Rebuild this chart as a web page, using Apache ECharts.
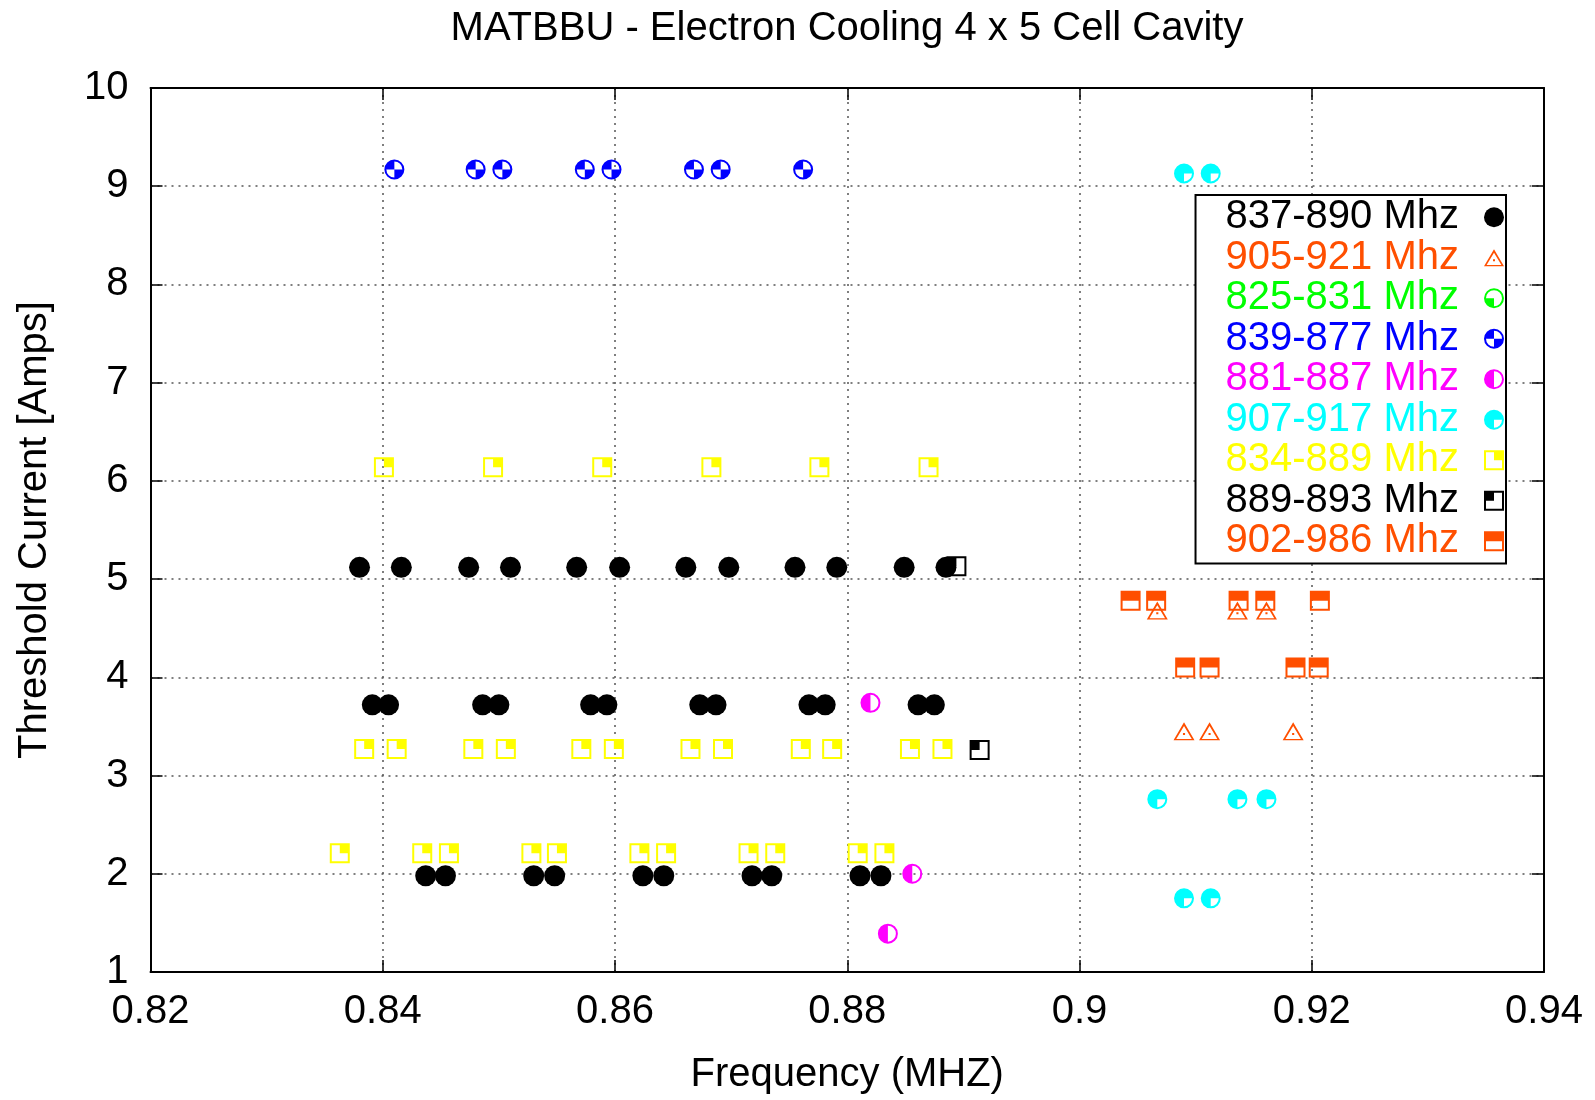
<!DOCTYPE html>
<html>
<head>
<meta charset="utf-8">
<title>MATBBU - Electron Cooling 4 x 5 Cell Cavity</title>
<script src="https://cdn.jsdelivr.net/npm/echarts@6/dist/echarts.min.js"></script>
<style>
  html, body { margin: 0; padding: 0; background: #fff; }
  #chart { width: 1595px; height: 1100px; }
</style>
</head>
<body>
<div id="chart"></div>
<script>
// data: [frequency, threshold current]
var black837_890 = [
  [0.8380, 5.12], [0.8416, 5.12], [0.8474, 5.12], [0.8510, 5.12], [0.8567, 5.12], [0.8604, 5.12],
  [0.8661, 5.12], [0.8698, 5.12], [0.8755, 5.12], [0.8791, 5.12], [0.8849, 5.12], [0.8885, 5.12],
  [0.8391, 3.72], [0.8405, 3.72], [0.8486, 3.72], [0.8500, 3.72], [0.8579, 3.72], [0.8593, 3.72],
  [0.8673, 3.72], [0.8687, 3.72], [0.8767, 3.72], [0.8781, 3.72], [0.8861, 3.72], [0.8875, 3.72],
  [0.8437, 1.98], [0.8454, 1.98], [0.8530, 1.98], [0.8548, 1.98], [0.8624, 1.98],
  [0.8642, 1.98], [0.8718, 1.98], [0.8735, 1.98], [0.8811, 1.98], [0.8829, 1.98]
];
var orange905_921 = [
  [0.9067, 4.68], [0.9136, 4.68], [0.9161, 4.68],
  [0.9090, 3.45], [0.9112, 3.45], [0.9184, 3.45]
];
var green825_831 = [];
var blue839_877 = [
  [0.8410, 9.17], [0.8480, 9.17], [0.8503, 9.17], [0.8574, 9.17],
  [0.8597, 9.17], [0.8668, 9.17], [0.8691, 9.17], [0.8762, 9.17]
];
var magenta881_887 = [[0.8820, 3.74], [0.8856, 2.00], [0.8835, 1.39]];
var cyan907_917 = [
  [0.9090, 9.13], [0.9113, 9.13],
  [0.9067, 2.76], [0.9136, 2.76], [0.9161, 2.76],
  [0.9090, 1.75], [0.9113, 1.75]
];
var yellow834_889 = [
  [0.8401, 6.14], [0.8495, 6.14], [0.8589, 6.14], [0.8683, 6.14], [0.8776, 6.14], [0.8870, 6.14],
  [0.8384, 3.27], [0.8412, 3.27], [0.8478, 3.27], [0.8506, 3.27], [0.8571, 3.27], [0.8599, 3.27],
  [0.8665, 3.27], [0.8693, 3.27], [0.8760, 3.27], [0.8787, 3.27], [0.8854, 3.27], [0.8882, 3.27],
  [0.8363, 2.21], [0.8434, 2.21], [0.8457, 2.21], [0.8528, 2.21], [0.8550, 2.21], [0.8621, 2.21],
  [0.8644, 2.21], [0.8715, 2.21], [0.8738, 2.21], [0.8809, 2.21], [0.8832, 2.21]
];
var black889_893 = [[0.8894, 5.13], [0.8914, 3.26]];
var orange902_986 = [
  [0.9044, 4.78], [0.9066, 4.78], [0.9137, 4.78], [0.9160, 4.78], [0.9207, 4.78],
  [0.9091, 4.10], [0.9112, 4.10], [0.9186, 4.10], [0.9206, 4.10]
];

var seriesNames = ['837-890 Mhz', '905-921 Mhz', '825-831 Mhz', '839-877 Mhz', '881-887 Mhz',
  '907-917 Mhz', '834-889 Mhz', '889-893 Mhz', '902-986 Mhz'];
var seriesData = [black837_890, orange905_921, green825_831, blue839_877, magenta881_887,
  cyan907_917, yellow834_889, black889_893, orange902_986];
var xTicks = [0.82, 0.84, 0.86, 0.88, 0.9, 0.92, 0.94];

var ORANGE = '#ff4f00';
var colors = ['#000000', ORANGE, '#00ff00', '#0000ff', '#ff00ff', '#00ffff', '#ffff00', '#000000', ORANGE];

// gnuplot-ish point shapes, built as 20x20 paths (ring / frame plus filled parts)
var ring = 'M0,10 A10,10 0 1,1 20,10 A10,10 0 1,1 0,10 Z M2,10 A8,8 0 1,0 18,10 A8,8 0 1,0 2,10 Z ';
var frame = 'M0,0 L20,0 L20,20 L0,20 Z M2,2 L2,18 L18,18 L18,2 Z ';
var symbols = [
  'circle',
  'path://M10,0 L20,17 L0,17 Z M10,3.4 L2.6,15.8 L17.4,15.8 Z M9,10 L11,10 L11,12 L9,12 Z',
  'path://' + ring + 'M10,10 L2,10 A8,8 0 0,0 10,18 Z',
  'path://' + ring + 'M10,10 L10,2 A8,8 0 0,0 2,10 Z M10,10 L10,18 A8,8 0 0,0 18,10 Z',
  'path://' + ring + 'M10,2 A8,8 0 0,0 10,18 Z',
  'path://' + ring + 'M10,10 L18,10 A8,8 0 1,0 10,18 Z',
  'path://' + frame + 'M10,2 L18,2 L18,10 L10,10 Z',
  'path://' + frame + 'M2,2 L10,2 L10,10 L2,10 Z',
  'path://' + frame + 'M2,2 L18,2 L18,10 L2,10 Z'
];
var sizes = [21, [21, 18], 20, 20, 20, 20, 20, 20, 20];

var FONT = 'Liberation Sans';

var series = seriesNames.map(function (name, i) {
  return {
    name: name,
    type: 'scatter',
    data: seriesData[i],
    symbol: symbols[i],
    symbolSize: sizes[i],
    itemStyle: { color: colors[i], opacity: 1 },
    emphasis: { disabled: true }
  };
});

var chart = echarts.init(document.getElementById('chart'));
chart.setOption({
  animation: false,
  backgroundColor: '#fff',
  textStyle: { fontFamily: FONT },
  title: {
    text: 'MATBBU - Electron Cooling 4 x 5 Cell Cavity',
    left: 847,
    top: 9,
    textAlign: 'center',
    padding: 0,
    textStyle: { fontFamily: FONT, fontSize: 40, fontWeight: 'normal', color: '#000' }
  },
  grid: { left: 150.5, right: 51, top: 88, bottom: 112 },
  legend: {
    orient: 'vertical',
    right: 89,
    top: 195,
    align: 'right',
    itemWidth: 20,
    itemHeight: 20,
    itemGap: 0,
    padding: [2, 2, 2, 30],
    borderColor: '#000',
    borderWidth: 2,
    backgroundColor: '#fff',
    selectedMode: false,
    textStyle: { fontFamily: FONT, fontSize: 40, lineHeight: 40.5, padding: [0, 20, 0, 0] },
    data: seriesNames.map(function (n, i) {
      return { name: n, textStyle: { color: colors[i] } };
    })
  },
  xAxis: [{
    type: 'value',
    min: 0.82, max: 0.94, interval: 0.02,
    name: 'Frequency (MHZ)',
    nameLocation: 'middle',
    nameGap: 83,
    nameTextStyle: { fontFamily: FONT, fontSize: 40, color: '#000' },
    axisLine: { show: true, onZero: false, lineStyle: { color: '#000', width: 2 } },
    axisTick: { show: true, inside: true, length: 12, lineStyle: { color: '#000', width: 1.5 } },
    axisLabel: {
      fontFamily: FONT, fontSize: 40, color: '#000', margin: 20,
      formatter: function (v) {
        var t = xTicks.filter(function (k) { return Math.abs(k - v) < 1e-9; })[0];
        return t === undefined ? '' : String(t);
      }
    },
    splitLine: { show: true, lineStyle: { color: '#555', width: 1.5, type: [2, 5] } }
  }, {
    type: 'value', position: 'top',
    min: 0.82, max: 0.94, interval: 0.02,
    axisLine: { show: true, onZero: false, lineStyle: { color: '#000', width: 2 } },
    axisTick: { show: true, inside: true, length: 12, lineStyle: { color: '#000', width: 1.5 } },
    axisLabel: { show: false },
    splitLine: { show: false }
  }],
  yAxis: [{
    type: 'value',
    min: 1, max: 10, interval: 1,
    name: 'Threshold Current [Amps]',
    nameLocation: 'middle',
    nameGap: 96,
    nameTextStyle: { fontFamily: FONT, fontSize: 40, color: '#000' },
    axisLine: { show: true, onZero: false, lineStyle: { color: '#000', width: 2 } },
    axisTick: { show: true, inside: true, length: 12, lineStyle: { color: '#000', width: 1.5 } },
    axisLabel: { fontFamily: FONT, fontSize: 40, color: '#000', margin: 22 },
    splitLine: { show: true, lineStyle: { color: '#555', width: 1.5, type: [2, 5] } }
  }, {
    type: 'value', position: 'right',
    min: 1, max: 10, interval: 1,
    axisLine: { show: true, onZero: false, lineStyle: { color: '#000', width: 2 } },
    axisTick: { show: true, inside: true, length: 12, lineStyle: { color: '#000', width: 1.5 } },
    axisLabel: { show: false },
    splitLine: { show: false }
  }],
  series: series
});
</script>
</body>
</html>
